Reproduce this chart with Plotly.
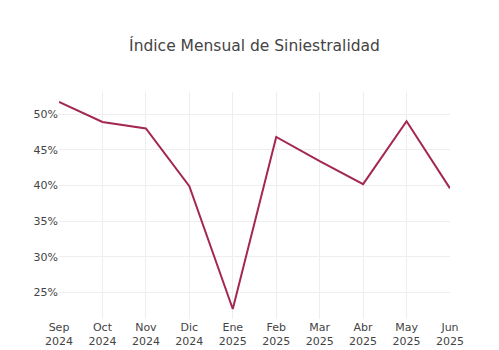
import plotly.graph_objects as go

# Monthly loss ratio, Sep 2024 – Jun 2025
meses = ["Sep<br>2024", "Oct<br>2024", "Nov<br>2024", "Dic<br>2024", "Ene<br>2025",
         "Feb<br>2025", "Mar<br>2025", "Abr<br>2025", "May<br>2025", "Jun<br>2025"]
siniestralidad = [0.517, 0.489, 0.480, 0.399, 0.227, 0.468, 0.434, 0.402, 0.490, 0.396]
ticks_y = [0.25, 0.30, 0.35, 0.40, 0.45, 0.50]

fig = go.Figure(
    go.Scatter(
        x=meses,
        y=siniestralidad,
        mode="lines",
        line=dict(color="#A3274F", width=2),
    )
)

fig.update_layout(
    template="plotly_white",
    width=499,
    height=350,
    margin=dict(l=59, r=49, t=92, b=31),
    font=dict(family="Verdana, DejaVu Sans, sans-serif", size=11, color="#444"),
    title=dict(text="Índice Mensual de Siniestralidad", xref="paper", x=0.5,
               xanchor="center", y=0.87, yanchor="middle",
               font=dict(size=15.5, color="#444")),
    showlegend=False,
    plot_bgcolor="white",
)
fig.update_xaxes(type="category", range=[0, len(meses) - 1], showgrid=True,
                 gridcolor="#eeeeee", zeroline=False, showline=False, automargin=False)
fig.update_yaxes(range=[0.213, 0.531], tickvals=ticks_y, tickformat=".0%",
                 showgrid=True, gridcolor="#eeeeee", zeroline=False, showline=False,
                 automargin=False)

fig.write_html("out.html")
